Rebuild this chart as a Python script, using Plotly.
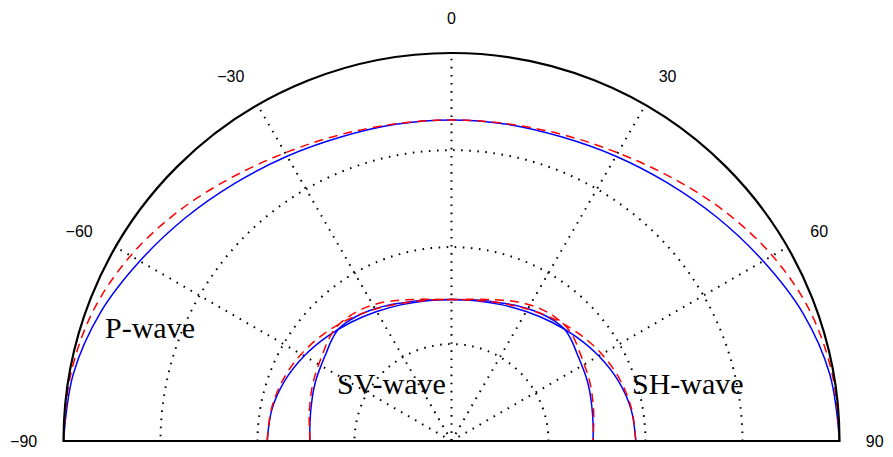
import plotly.graph_objects as go

# Angles (degrees from vertical) and radial values (outer ring = 4)
angles = [-90, -80, -70, -60, -50, -40, -30, -20, -10, 0, 10, 20, 30, 40, 50, 60, 70, 80, 90]
angles_fine = [-90, -85, -80, -75, -70, -65, -60, -55, -50, -45, -40, -35, -30, -25, -20, -15, -10, -5, 0,
               5, 10, 15, 20, 25, 30, 35, 40, 45, 50, 55, 60, 65, 70, 75, 80, 85, 90]

p_exact = [4.0, 3.96, 3.855, 3.71, 3.58, 3.47, 3.39, 3.335, 3.315, 3.31,
           3.315, 3.335, 3.39, 3.47, 3.58, 3.71, 3.855, 3.96, 4.0]
p_approx = [4.0, 3.985, 3.93, 3.82, 3.68, 3.54, 3.43, 3.36, 3.32, 3.31,
            3.32, 3.36, 3.43, 3.54, 3.68, 3.82, 3.93, 3.985, 4.0]
sv_exact = [1.46, 1.466, 1.478, 1.494, 1.515, 1.535, 1.553, 1.578, 1.615, 1.64,
            1.628, 1.605, 1.575, 1.545, 1.515, 1.493, 1.475, 1.463, 1.46,
            1.463, 1.475, 1.493, 1.515, 1.545, 1.575, 1.605, 1.628, 1.64,
            1.615, 1.578, 1.553, 1.535, 1.515, 1.494, 1.478, 1.466, 1.46]
sv_approx = [1.46, 1.47, 1.49, 1.51, 1.535, 1.558, 1.58, 1.61, 1.648, 1.67,
             1.665, 1.648, 1.62, 1.585, 1.545, 1.51, 1.485, 1.465, 1.46,
             1.465, 1.485, 1.51, 1.545, 1.585, 1.62, 1.648, 1.665, 1.67,
             1.648, 1.61, 1.58, 1.558, 1.535, 1.51, 1.49, 1.47, 1.46]
sh_exact = [1.90, 1.88, 1.827, 1.754, 1.675, 1.602, 1.541, 1.496, 1.469, 1.46,
            1.469, 1.496, 1.541, 1.602, 1.675, 1.754, 1.827, 1.88, 1.90]
sh_approx = [1.90, 1.886, 1.848, 1.79, 1.718, 1.642, 1.57, 1.511, 1.473, 1.46,
             1.473, 1.511, 1.57, 1.642, 1.718, 1.79, 1.848, 1.886, 1.90]

tick_vals = [-90, -60, -30, 0, 30, 60, 90]
tick_text = ["\u221290", "\u221260", "\u221230", "0", "30", "60", "90"]
radial_ticks = [1, 2, 3]
wave_labels = ["P-wave", "SV-wave", "SH-wave"]

BLUE = "#0000ff"
RED = "#ff0000"

curves = [
    (angles, p_exact, BLUE, None),
    (angles_fine, sv_exact, BLUE, None),
    (angles, sh_exact, BLUE, None),
    (angles, p_approx, RED, "9px,6px"),
    (angles_fine, sv_approx, RED, "9px,6px"),
    (angles, sh_approx, RED, "9px,6px"),
]

fig = go.Figure()
for th, rr, col, dash in curves:
    line = dict(color=col, width=1.5, shape="spline")
    if dash:
        line["dash"] = dash
    fig.add_trace(go.Scatterpolar(
        r=rr, theta=th, mode="lines", line=line,
        showlegend=False, hoverinfo="skip"))

grid_style = dict(showgrid=True, gridcolor="black", gridwidth=1.6, griddash="1.6px,6.5px")

fig.update_layout(
    width=893, height=457,
    margin=dict(l=0, r=0, t=0, b=0),
    paper_bgcolor="white",
    font=dict(family="Liberation Sans, Arial, sans-serif", size=16, color="black"),
    polar=dict(
        domain=dict(x=[0.0711, 0.9401], y=[0.035, 0.884]),
        sector=[0, 180],
        bgcolor="white",
        angularaxis=dict(
            rotation=90, direction="clockwise",
            tickmode="array", tickvals=tick_vals, ticktext=tick_text,
            showline=True, linecolor="black", linewidth=2.2,
            ticks="outside", ticklen=22, tickcolor="rgba(0,0,0,0)",
            tickfont=dict(size=16, color="black"),
            **grid_style,
        ),
        radialaxis=dict(
            range=[0, 4], tickmode="array", tickvals=radial_ticks,
            showticklabels=False, ticks="", showline=False,
            **grid_style,
        ),
    ),
)

label_pos = [(0.168, 0.284), (0.438, 0.16), (0.7705, 0.16)]
for txt, (x, y) in zip(wave_labels, label_pos):
    fig.add_annotation(
        text=txt, x=x, y=y, xref="paper", yref="paper",
        xanchor="center", yanchor="middle", showarrow=False,
        font=dict(family="Liberation Serif, Times New Roman, serif", size=30, color="black"))

fig.write_html("out.html")
